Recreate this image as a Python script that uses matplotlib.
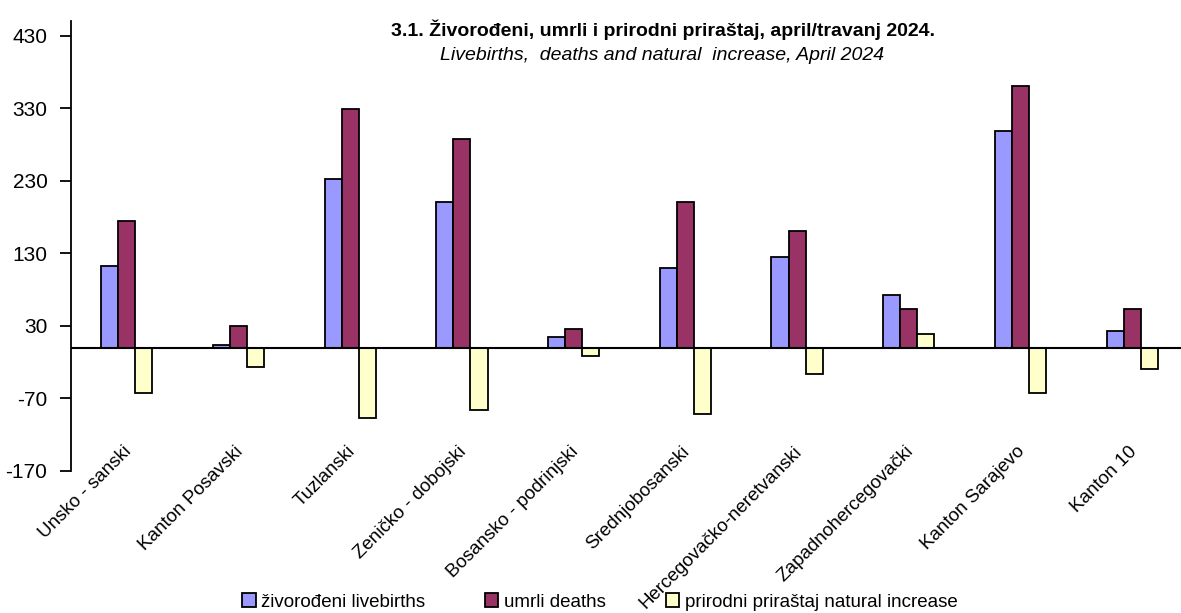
import matplotlib
matplotlib.use("Agg")
import matplotlib.pyplot as plt
import numpy as np
from matplotlib import font_manager
from matplotlib.patches import Patch
from matplotlib.transforms import ScaledTranslation

categories = ["Unsko - sanski", "Kanton Posavski", "Tuzlanski", "Zeničko - dobojski",
              "Bosansko - podrinjski", "Srednjobosanski", "Hercegovačko-neretvanski",
              "Zapadnohercegovački", "Kanton Sarajevo", "Kanton 10"]
livebirths = [113, 3, 232, 201, 15, 110, 125, 72, 298, 23]
deaths = [175, 30, 329, 287, 26, 201, 161, 53, 361, 53]
natural = [-62, -27, -97, -86, -11, -91, -36, 19, -63, -30]
yticks = [-170, -70, 30, 130, 230, 330, 430]
series_names = ["živorođeni livebirths", "umrli deaths", "prirodni priraštaj natural increase"]
colors = ["#9999FF", "#993366", "#FFFFCC"]

names = {f.name for f in font_manager.fontManager.ttflist}
fam = "Liberation Sans Narrow" if "Liberation Sans Narrow" in names else "Liberation Sans"
plt.rcParams["font.family"] = [fam, "DejaVu Sans"]
plt.rcParams["axes.unicode_minus"] = False

fig = plt.figure(figsize=(11.81, 6.13), dpi=100)
ax = fig.add_axes([71/1181, 142/613, 1117/1181, 450/613])

x = np.arange(len(categories))
w = 0.153
for i, (vals, c) in enumerate(zip([livebirths, deaths, natural], colors)):
    ax.bar(x + (i - 1) * w, vals, w, color=c, edgecolor="black", linewidth=1.3, zorder=2)

ax.axhline(0, color="black", linewidth=1.5, zorder=3)
ax.set_xlim(-0.5, len(categories) - 0.5)
ax.set_ylim(-170, 450)
ax.set_yticks(yticks)
ax.tick_params(axis="y", labelsize=15, length=8, width=1.3, pad=9)
for s in ["top", "right", "bottom"]:
    ax.spines[s].set_visible(False)
ax.spines["left"].set_linewidth(1.3)

ax.set_xticks(x)
ax.set_xticklabels(categories, rotation=45, ha="right", va="top", fontsize=13.5)
ax.tick_params(axis="x", length=0, pad=0)
off = ScaledTranslation(8/100, 28/100, fig.dpi_scale_trans)
for lab in ax.get_xticklabels():
    lab.set_transform(lab.get_transform() + off)

fig.text(0.561, 0.952, "3.1. Živorođeni, umrli i prirodni priraštaj, april/travanj 2024.",
         ha="center", va="center", fontsize=14, fontweight="bold")
fig.text(0.561, 0.910, "Livebirths,  deaths and natural  increase, April 2024",
         ha="center", va="center", fontsize=14, style="italic")

handles = [Patch(facecolor=c, edgecolor="black", linewidth=1.3) for c in colors]
fig.legend(handles, series_names, loc="center", bbox_to_anchor=(0.508, 0.018), ncol=3,
           frameon=False, fontsize=13.5, handlelength=0.7, handleheight=0.7,
           handletextpad=0.3, columnspacing=3.2, borderaxespad=0)

fig.savefig("out.png", dpi=100)
